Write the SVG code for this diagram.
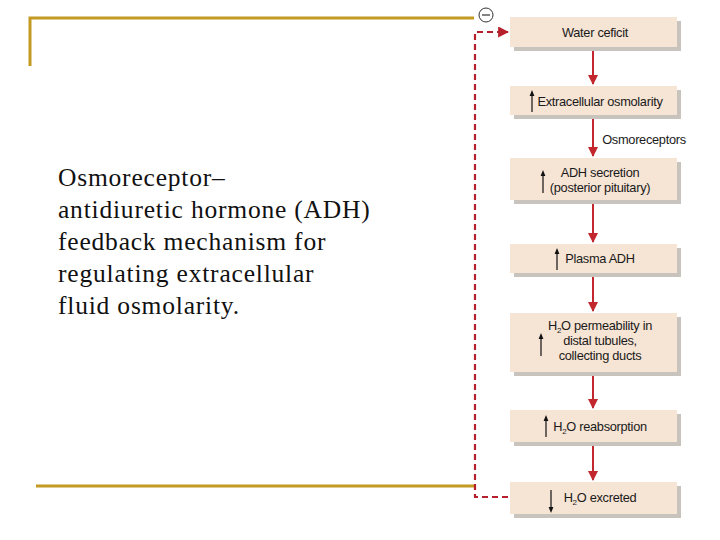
<svg xmlns="http://www.w3.org/2000/svg" width="720" height="540" viewBox="0 0 720 540">
<defs>
<style>
.gold{stroke:#c49a22;stroke-width:3;fill:none}
.box{fill:#f6e4d4}
.shadow{fill:#c9c3bd}
.lbl{font-family:"Liberation Sans",Arial,sans-serif;font-size:12.8px;fill:#1a1a1a;text-anchor:middle;letter-spacing:-0.3px}
.sub{font-size:8px}
.flow{stroke:#c1272d;stroke-width:2;fill:none}
.dash{stroke:#b5202c;stroke-width:2.2;fill:none;stroke-dasharray:6,4}
.ind{stroke:#111;stroke-width:1.2;fill:none}
.title{font-family:"Liberation Serif","Times New Roman",serif;font-size:25.5px;letter-spacing:0.8px;fill:#111}
</style>
<marker id="ah" viewBox="0 0 10 10" refX="9" refY="5" markerWidth="5" markerHeight="5" orient="auto">
<path d="M0,0 L10,5 L0,10 z" fill="#c1272d"/>
</marker>
<marker id="ahd" viewBox="0 0 10 10" refX="9" refY="5" markerWidth="5" markerHeight="5" orient="auto">
<path d="M0,0 L10,5 L0,10 z" fill="#b5202c"/>
</marker>
<marker id="ind" viewBox="0 0 10 10" refX="5" refY="5" markerWidth="5" markerHeight="5" orient="auto">
<path d="M0,1 L10,5 L0,9 z" fill="#111"/>
</marker>
</defs>
<rect width="720" height="540" fill="#ffffff"/>

<g id="frame">
<path class="gold" d="M30,66 V18 H474"/>
<path class="gold" d="M36,486 H474"/>
</g>

<g id="title">
<text class="title" x="58" y="186">Osmoreceptor–</text>
<text class="title" x="58" y="218">antidiuretic hormone (ADH)</text>
<text class="title" x="58" y="250">feedback mechanism for</text>
<text class="title" x="58" y="282">regulating extracellular</text>
<text class="title" x="58" y="314">fluid osmolarity.</text>
</g>

<g id="connectors">
<line class="flow" x1="593" y1="47" x2="593" y2="84" marker-end="url(#ah)"/>
<line class="flow" x1="593" y1="115" x2="593" y2="156" marker-end="url(#ah)"/>
<line class="flow" x1="593" y1="200" x2="593" y2="242" marker-end="url(#ah)"/>
<line class="flow" x1="593" y1="273" x2="593" y2="311" marker-end="url(#ah)"/>
<line class="flow" x1="593" y1="372" x2="593" y2="408" marker-end="url(#ah)"/>
<line class="flow" x1="593" y1="442" x2="593" y2="480" marker-end="url(#ah)"/>
<path class="dash" d="M508,497 H475 V32 H508" marker-end="url(#ahd)"/>
<text class="lbl" x="644" y="144">Osmoreceptors</text>
<g id="minus">
<circle cx="486" cy="15" r="7" fill="#fff" stroke="#333" stroke-width="1"/>
<line x1="482" y1="15" x2="490" y2="15" stroke="#333" stroke-width="1.2"/>
</g>
</g>

<g id="n1">
<rect class="shadow" x="514" y="21" width="167" height="30"/>
<rect class="box" x="510" y="17" width="167" height="30"/>
<text class="lbl" x="595" y="37">Water ceficit</text>
</g>

<g id="n2">
<rect class="shadow" x="514" y="90" width="167" height="29"/>
<rect class="box" x="510" y="86" width="167" height="29"/>
<line class="ind" x1="532" y1="112" x2="532" y2="93" marker-end="url(#ind)"/>
<text class="lbl" x="600" y="106">Extracellular osmolarity</text>
</g>

<g id="n3">
<rect class="shadow" x="514" y="162" width="167" height="42"/>
<rect class="box" x="510" y="158" width="167" height="42"/>
<line class="ind" x1="543" y1="193" x2="543" y2="173" marker-end="url(#ind)"/>
<text class="lbl" x="600" y="177">ADH secretion</text>
<text class="lbl" x="600" y="192">(posterior pituitary)</text>
</g>

<g id="n4">
<rect class="shadow" x="514" y="248" width="167" height="29"/>
<rect class="box" x="510" y="244" width="167" height="29"/>
<line class="ind" x1="557" y1="270" x2="557" y2="251" marker-end="url(#ind)"/>
<text class="lbl" x="600" y="263">Plasma ADH</text>
</g>

<g id="n5">
<rect class="shadow" x="514" y="317" width="167" height="59"/>
<rect class="box" x="510" y="313" width="167" height="59"/>
<line class="ind" x1="541" y1="356" x2="541" y2="336" marker-end="url(#ind)"/>
<text class="lbl" x="600" y="330">H<tspan class="sub" dy="3">2</tspan><tspan dy="-3">O permeability in</tspan></text>
<text class="lbl" x="600" y="345">distal tubules,</text>
<text class="lbl" x="600" y="360">collecting ducts</text>
</g>

<g id="n6">
<rect class="shadow" x="514" y="414" width="167" height="32"/>
<rect class="box" x="510" y="410" width="167" height="32"/>
<line class="ind" x1="546" y1="437" x2="546" y2="418" marker-end="url(#ind)"/>
<text class="lbl" x="600" y="431">H<tspan class="sub" dy="3">2</tspan><tspan dy="-3">O reabsorption</tspan></text>
</g>

<g id="n7">
<rect class="shadow" x="514" y="486" width="167" height="32"/>
<rect class="box" x="510" y="482" width="167" height="32"/>
<line class="ind" x1="551" y1="490" x2="551" y2="510" marker-end="url(#ind)"/>
<text class="lbl" x="600" y="502">H<tspan class="sub" dy="3">2</tspan><tspan dy="-3">O excreted</tspan></text>
</g>
</svg>
